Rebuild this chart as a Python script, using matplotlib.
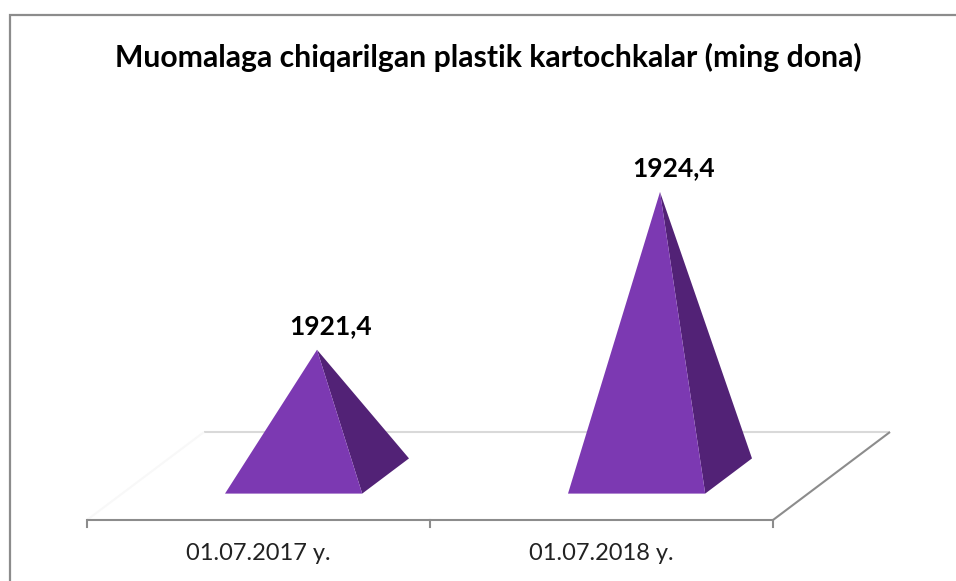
import matplotlib
matplotlib.use('Agg')
import matplotlib.pyplot as plt
from matplotlib.patches import Polygon, Rectangle

# ── Data ──────────────────────────────────────────────────────────────────────
categories = ["01.07.2017 y.", "01.07.2018 y."]
values = [1921.4, 1924.4]
axis_min = 1919.0
title = "Muomalaga chiqarilgan plastik kartochkalar (ming dona)"

# ── Style ─────────────────────────────────────────────────────────────────────
FRONT_COL = "#7C39B2"
SIDE_COL = "#522276"
AXIS_COL = "#8C8C8C"
GRID_COL = "#D9D9D9"
FONT = "Lato"

# ── Geometry (pixels of the 956x581 canvas) ───────────────────────────────────
W, H = 956, 581
PX_CAT = 343.0      # px per category along x
PX_VAL = 52.6       # px per value unit
X0_PX = 87          # left end of the floor front edge
FLOOR_PX = 520      # floor front edge, from top
DX = 117 / PX_CAT   # depth vector in data units
DY = 88 / PX_VAL
HALF_W = 0.2        # half base width (category units)
D0, D1 = 0.3, 0.7   # base depth range

fig = plt.figure(figsize=(W / 100, H / 100), dpi=100)
ax = fig.add_axes([0, 0, 1, 1])
ax.set_xlim(-X0_PX / PX_CAT, (W - X0_PX) / PX_CAT)
ax.set_ylim(axis_min - (H - FLOOR_PX) / PX_VAL, axis_min + FLOOR_PX / PX_VAL)
ax.axis('off')


def proj(x, d, v):
    """Oblique projection: category x, depth d (0..1), value v."""
    return x + d * DX, v + d * DY


n = len(categories)

# ── Floor ─────────────────────────────────────────────────────────────────────
for a, b, col, z in [
    ((0, 1), (n, 1), GRID_COL, 1),
    ((0, 0), (0, 1), "#F8F8F8", 1),
    ((0, 0), (n, 0), AXIS_COL, 5),
    ((n, 0), (n, 1), AXIS_COL, 5),
]:
    p = proj(a[0], a[1], axis_min)
    q = proj(b[0], b[1], axis_min)
    ax.plot([p[0], q[0]], [p[1], q[1]], color=col, lw=1.5, zorder=z,
            solid_capstyle='butt')

for k in range(n + 1):
    ax.plot([k, k], [axis_min, axis_min - 7 / PX_VAL], color=AXIS_COL,
            lw=1.5, zorder=5)

# ── Pyramids ──────────────────────────────────────────────────────────────────
for i, (cat, v) in enumerate(zip(categories, values)):
    c = i + 0.5
    fl = proj(c - HALF_W, D0, axis_min)
    fr = proj(c + HALF_W, D0, axis_min)
    br = proj(c + HALF_W, D1, axis_min)
    apex = proj(c, (D0 + D1) / 2, v)
    ax.add_patch(Polygon([fr, br, apex], closed=True, facecolor=SIDE_COL,
                         edgecolor='none', zorder=3))
    ax.add_patch(Polygon([fl, fr, apex], closed=True, facecolor=FRONT_COL,
                         edgecolor='none', zorder=4))
    ax.text(apex[0] + 14 / PX_CAT, apex[1] + 24 / PX_VAL,
            f"{v:.1f}".replace('.', ','), ha='center', va='center',
            fontsize=19, fontweight='bold', family=FONT, color='black',
            zorder=6)
    ax.text(c, axis_min - 33 / PX_VAL, cat, ha='center', va='center',
            fontsize=17, family=FONT, color='#222222', zorder=6)

# ── Title and frame ───────────────────────────────────────────────────────────
fig.text(488 / W, 1 - 57 / H, title, ha='center', va='center',
         fontsize=21.7, fontweight='bold', family=FONT, color='black')

fig.add_artist(Rectangle((9.5 / W, -0.05), 1.1, 1 - 14.5 / H + 0.05,
                         transform=fig.transFigure, fill=False,
                         edgecolor=AXIS_COL, lw=1.6))

fig.savefig("out.png", dpi=100, facecolor='white')
plt.close(fig)
